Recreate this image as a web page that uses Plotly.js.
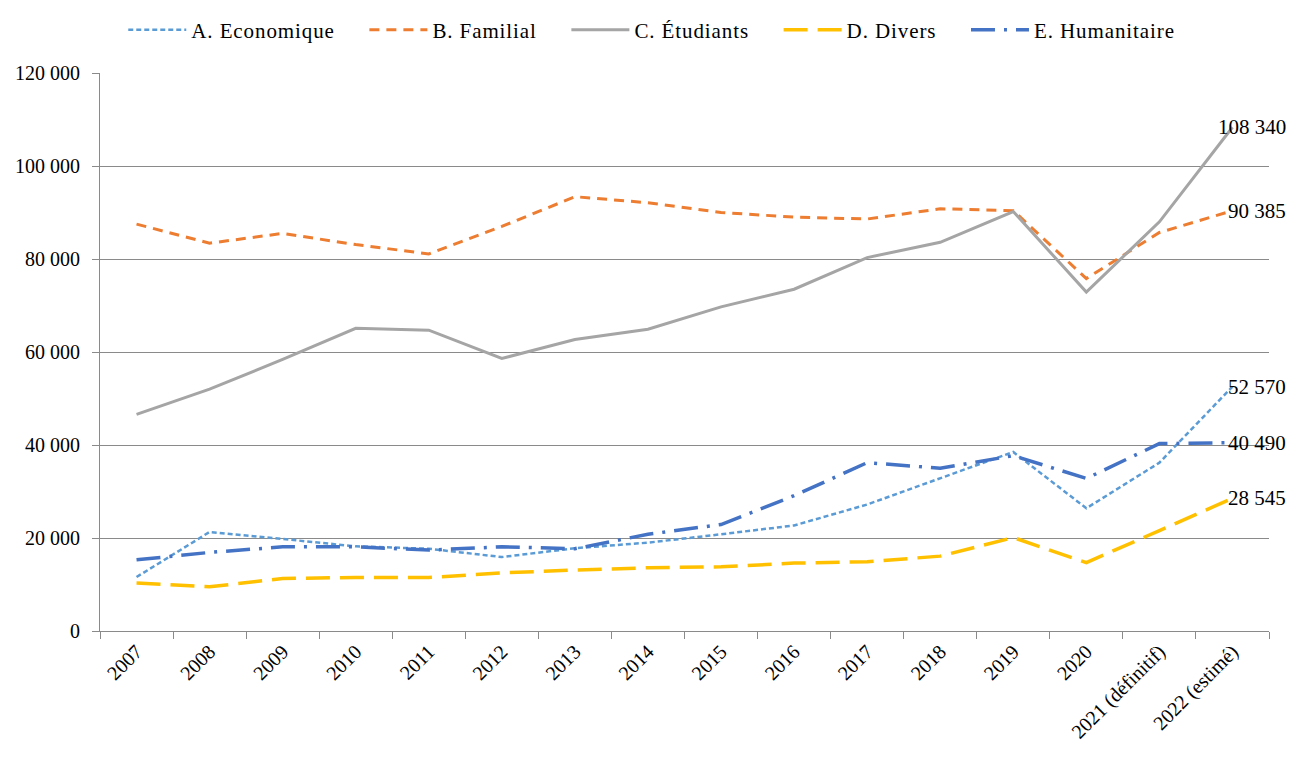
<!DOCTYPE html>
<html>
<head>
<meta charset="utf-8">
<script src="https://cdn.plot.ly/plotly-3.0.1.min.js"></script>
<style>html,body{margin:0;padding:0;background:#fff;} #chart{width:1293px;height:772px;}
.legendtext{letter-spacing:0.9px;}</style>
</head>
<body>
<div id="chart"></div>
<script>
const categories = ["2007","2008","2009","2010","2011","2012","2013","2014","2015","2016","2017","2018","2019","2020","2021 (définitif)","2022 (estimé)"];
const economique  = [11600, 21300, 19800, 18200, 17700, 15900, 17800, 19000, 20800, 22700, 27200, 32900, 38500, 26400, 36200, 52570];
const familial    = [87500, 83400, 85500, 83100, 81100, 87000, 93400, 92100, 90000, 89000, 88600, 90800, 90400, 75800, 85700, 90385];
const etudiants   = [46600, 52000, 58400, 65100, 64700, 58600, 62700, 64900, 69700, 73500, 80300, 83600, 90200, 72900, 88000, 108340];
const divers      = [10300, 9500, 11300, 11500, 11500, 12500, 13100, 13600, 13800, 14600, 14900, 16100, 20100, 14700, 21600, 28545];
const humanitaire = [15300, 16900, 18100, 18100, 17400, 18100, 17700, 20800, 22900, 29100, 36200, 35000, 37700, 32800, 40300, 40490];
const seriesNames = ["A. Economique", "B. Familial", "C. Étudiants", "D. Divers", "E. Humanitaire"];

const FONT = "'Liberation Serif', 'Times New Roman', serif";
const styles = [
  {color:"#5B9BD5", width:2.5, dash:"5px,3px"},
  {color:"#ED7D31", width:3, dash:"10px,7px"},
  {color:"#A5A5A5", width:3, dash:"solid"},
  {color:"#FFC000", width:3.5, dash:"24px,10px"},
  {color:"#4472C4", width:3.5, dash:"24px,9px,3px,9px"}
];
const allSeries = [economique, familial, etudiants, divers, humanitaire];
const PAD = "\u00a0\u00a0\u00a0\u00a0";

const traces = allSeries.map((vals, i) => ({
  type: "scatter", mode: "lines",
  name: seriesNames[i] + (i < seriesNames.length - 1 ? PAD : ""),
  x: categories, y: vals,
  line: {color: styles[i].color, width: styles[i].width, dash: styles[i].dash},
  hoverinfo: "x+y+name"
}));

function fmt(v){ return String(v).replace(/\B(?=(\d{3})+(?!\d))/g, " "); }
const last = categories.length - 1;
const annotations = allSeries.map(vals => ({
  x: categories[last], y: vals[last], xref: "x", yref: "y",
  text: fmt(vals[last]), showarrow: false,
  xanchor: "right", yanchor: "middle", xshift: 56,
  font: {family: FONT, size: 21, color: "#000"}
}));

const layout = {
  width: 1293, height: 772,
  margin: {l: 100, r: 24, t: 73, b: 141, pad: 0, autoexpand: false},
  paper_bgcolor: "#fff", plot_bgcolor: "#fff",
  separators: ", ",
  font: {family: FONT, size: 20, color: "#000"},
  showlegend: true,
  legend: {orientation: "h", x: 0.472, xanchor: "center", y: 1.077, yanchor: "middle",
           font: {family: FONT, size: 21, color: "#000"}, itemwidth: 58, bgcolor: "rgba(0,0,0,0)"},
  xaxis: {type: "category", range: [-0.5, 15.5], autorange: false, tickangle: -45, tickson: "boundaries", ticks: "outside", ticklen: 7,
          tickcolor: "#8a8a8a", showline: true, linecolor: "#8a8a8a", linewidth: 1, showgrid: false,
          tickfont: {family: FONT, size: 20, color: "#000"}, automargin: false},
  yaxis: {range: [0, 120000], autorange: false, dtick: 20000, tick0: 0, tickformat: ",d", ticks: "outside", ticklen: 7,
          tickcolor: "#8a8a8a", showline: true, linecolor: "#8a8a8a", linewidth: 1,
          showgrid: true, gridcolor: "#8a8a8a", gridwidth: 1, zeroline: false, automargin: false,
          tickfont: {family: FONT, size: 20, color: "#000"}, ticklabelstandoff: 8},
  annotations: annotations
};

Plotly.newPlot("chart", traces, layout, {displayModeBar: false, staticPlot: true});
</script>
</body>
</html>
